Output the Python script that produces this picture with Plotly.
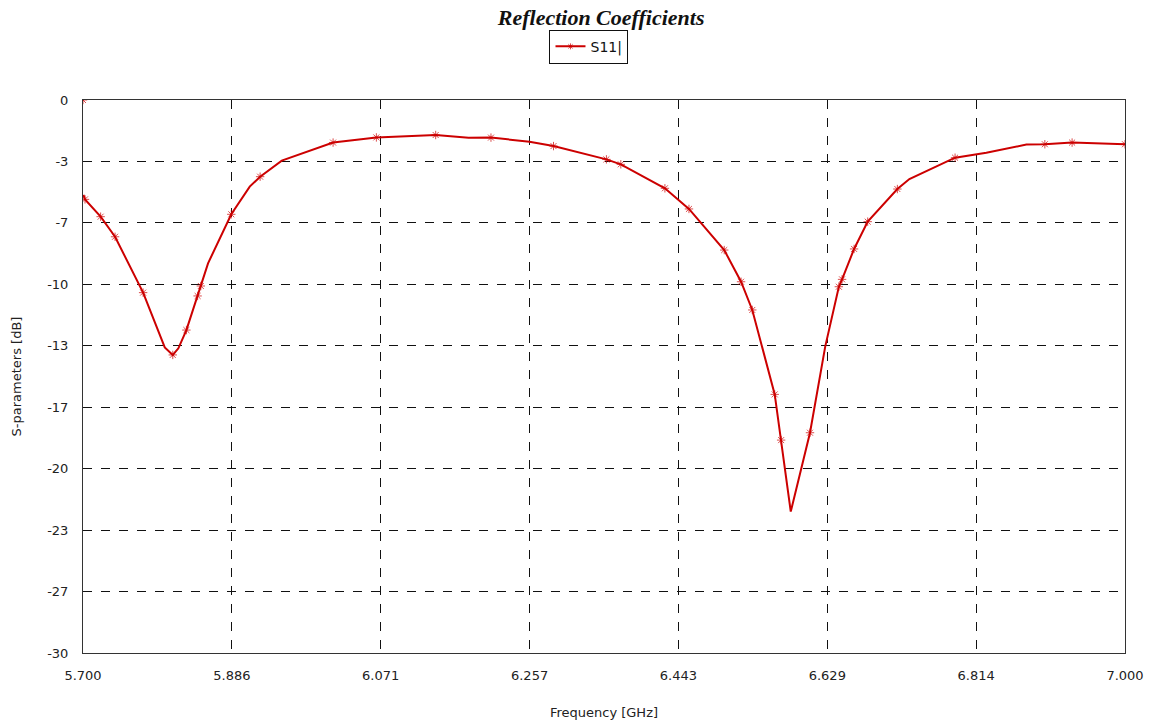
import plotly.graph_objects as go

# ---- data ----
# sampled points (drawn with an asterisk marker)
sample_freq = [5.700, 5.7025, 5.722, 5.740, 5.775, 5.812, 5.829, 5.843, 5.847, 5.885,
               5.921, 6.012, 6.066, 6.140, 6.209, 6.287, 6.353, 6.371, 6.426, 6.456,
               6.500, 6.521, 6.535, 6.563, 6.571, 6.607, 6.643, 6.647, 6.662, 6.679,
               6.716, 6.788, 6.900, 6.934, 7.000]
sample_db = [0.0, -5.39, -6.33, -7.42, -10.45, -13.83, -12.48, -10.63, -10.09, -6.20,
             -4.16, -2.31, -2.03, -1.90, -2.04, -2.50, -3.22, -3.49, -4.79, -5.91,
             -8.14, -9.86, -11.39, -15.97, -18.45, -18.05, -10.13, -9.73, -8.08, -6.60,
             -4.83, -3.13, -2.40, -2.31, -2.40]
# extra vertices of the drawn curve (no marker)
bend_freq = [5.7005, 5.802, 5.819, 5.856, 5.908, 5.948, 6.181, 6.257, 6.583, 6.626,
             6.731, 6.827, 6.877]
bend_db = [-5.15, -13.42, -13.47, -8.86, -4.70, -3.29, -2.05, -2.26, -22.33, -13.38,
           -4.29, -2.86, -2.42]

x_tick_vals = [5.7 + k * 1.3 / 7 for k in range(8)]
x_tick_text = ["5.700", "5.886", "6.071", "6.257", "6.443", "6.629", "6.814", "7.000"]
y_tick_vals = [-k * 30 / 9 for k in range(10)]
y_tick_text = ["0", "-3", "-7", "-10", "-13", "-17", "-20", "-23", "-27", "-30"]

# merge into one curve; the first sample (5.700, 0) is isolated from the curve
pts = sorted([(f, d, True) for f, d in zip(sample_freq, sample_db)] +
             [(f, d, False) for f, d in zip(bend_freq, bend_db)])
xs, ys, sizes = [], [], []
for i, (f, d, m) in enumerate(pts):
    if i == 1:
        xs.append(None); ys.append(None); sizes.append(0)
    xs.append(f); ys.append(d); sizes.append(7 if m else 0)

RED = "#cc0000"
fig = go.Figure()
fig.add_trace(go.Scatter(
    x=xs, y=ys, name="S11|", mode="lines+markers",
    connectgaps=False,
    line=dict(color=RED, width=2),
    marker=dict(symbol="asterisk-open", size=sizes, color=RED,
                line=dict(color=RED, width=1)),
))

FONT = "DejaVu Sans, Arial, sans-serif"
tick_font = dict(family=FONT, size=13, color="#222")
fig.update_layout(
    width=1156, height=724,
    margin=dict(l=83, r=31, t=100, b=71),
    paper_bgcolor="white", plot_bgcolor="white",
    title=dict(text="Reflection Coefficients", x=0.52, xanchor="center",
               y=1 - 17 / 724, yanchor="middle",
               font=dict(family="Liberation Serif, Times New Roman, serif",
                         size=22, color="#111", style="italic", weight="bold")),
    showlegend=True,
    legend=dict(x=0.4856, xanchor="center", y=1.127, yanchor="top",
                orientation="h", bordercolor="#111", borderwidth=1,
                bgcolor="white",
                font=dict(family=FONT, size=14, color="#111")),
    xaxis=dict(range=[5.7, 7.0], tickmode="array", tickvals=x_tick_vals,
               ticktext=x_tick_text, tickfont=tick_font, automargin=False,
               showgrid=True, gridcolor="#111", griddash="dash", gridwidth=1,
               zeroline=False, showline=True, linecolor="#333", linewidth=1,
               mirror=True, ticks="", ticklabelstandoff=10,
               title=dict(text="Frequency [GHz]", font=tick_font, standoff=26)),
    yaxis=dict(range=[-30, 0], tickmode="array", tickvals=y_tick_vals,
               ticktext=y_tick_text, tickfont=tick_font, automargin=False,
               showgrid=True, gridcolor="#111", griddash="dash", gridwidth=1,
               zeroline=False, showline=True, linecolor="#333", linewidth=1,
               mirror=True, ticks="", ticklabelstandoff=11,
               title=dict(text="S-parameters [dB]", font=tick_font, standoff=22)),
)

fig.write_html("out.html")
